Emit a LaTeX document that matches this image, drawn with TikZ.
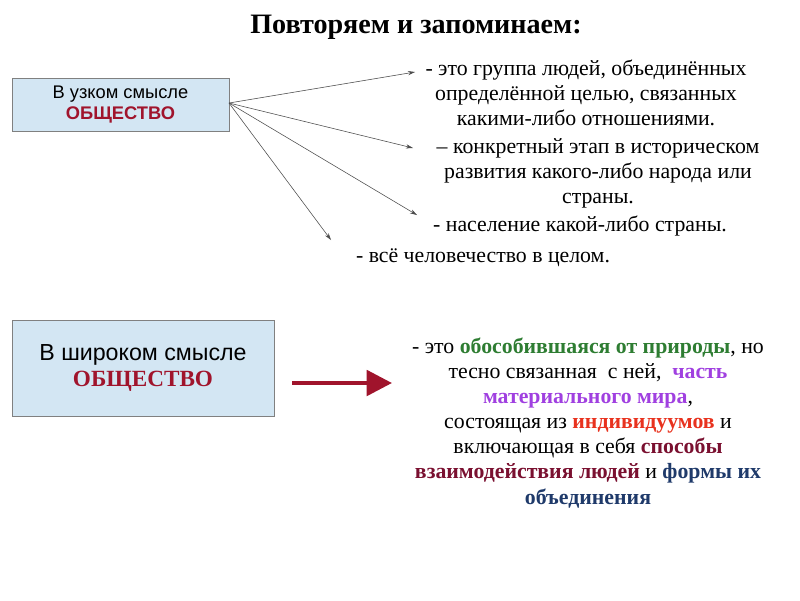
\documentclass[tikz,border=0pt]{standalone}
\usepackage{fontspec}
\setmainfont{Liberation Serif}
\setsansfont{Liberation Sans}
\usetikzlibrary{arrows.meta}
\definecolor{boxblue}{HTML}{D3E6F3}
\definecolor{darkred}{HTML}{A0142C}
\definecolor{natgreen}{HTML}{2E7D32}
\definecolor{violet}{HTML}{A040E0}
\definecolor{redorange}{HTML}{E8321E}
\definecolor{maroon}{HTML}{7A1030}
\definecolor{navyblue}{HTML}{1F3A6A}
\begin{document}
\begin{tikzpicture}[
        x=0.025cm, y=-0.025cm,
        sensebox/.style = {draw=gray, fill=boxblue, font=\sffamily, align=center, inner sep=0pt},
        meaning/.style = {align=center, font=\fontsize{15.5}{17.8}\selectfont},
        pointer/.style = {->, >={Stealth[length=5pt,width=3pt]}, draw=black!70}]
        \useasboundingbox (0,0) rectangle (800,600);
        % TITLE
        \node[font=\fontsize{20}{22}\selectfont\bfseries] (title) at (416,27) {Повторяем и запоминаем:};
        % NARROW SENSE
        \node[sensebox, minimum width=217*0.025cm, minimum height=53*0.025cm,
              font=\sffamily\fontsize{13}{15}\selectfont] (narrow) at (120.5,104.5)
              {В узком смысле\\\textcolor{darkred}{\bfseries ОБЩЕСТВО}};
        \coordinate (src) at (229,103);
        % meanings
        \node[meaning] (m1) at (586,93) {- это группа людей, объединённых\\определённой целью, связанных\\какими-либо отношениями.};
        \node[meaning] (m2) at (598,173) {– конкретный этап в историческом\\развития какого-либо народа или\\страны.};
        \node[meaning] (m3) at (580,226) {- население какой-либо страны.};
        \node[meaning] (m4) at (483,258) {- всё человечество в целом.};
        % pointers
        \coordinate (t1) at (415,72);
        \coordinate (t2) at (413,148);
        \coordinate (t3) at (417,215);
        \coordinate (t4) at (331,240);
        \foreach \t in {t1,t2,t3,t4}
            \draw[pointer] (src) -- (\t);
        % BROAD SENSE
        \node[sensebox, minimum width=262*0.025cm, minimum height=96*0.025cm,
              font=\sffamily\fontsize{16.5}{18}\selectfont] (broad) at (143,368)
              {В широком смысле\\\textcolor{darkred}{\rmfamily\bfseries ОБЩЕСТВО}};
        \coordinate (rs) at (292,383);
        \coordinate (re) at (392,383);
        \draw[line width=3pt, draw=darkred, -{Triangle[length=18pt,width=18pt]}] (rs) -- (re);
        \node[meaning] (def) at (588,423) {- это \textcolor{natgreen}{\bfseries обособившаяся от природы}, но\\
            тесно связанная\ \ с ней,\ \ \textcolor{violet}{\bfseries часть}\\
            \textcolor{violet}{\bfseries материального мира},\\
            состоящая из \textcolor{redorange}{\bfseries индивидуумов} и\\
            включающая в себя \textcolor{maroon}{\bfseries способы}\\
            \textcolor{maroon}{\bfseries взаимодействия людей} и \textcolor{navyblue}{\bfseries формы их}\\
            \textcolor{navyblue}{\bfseries объединения}};
\end{tikzpicture}
\end{document}
